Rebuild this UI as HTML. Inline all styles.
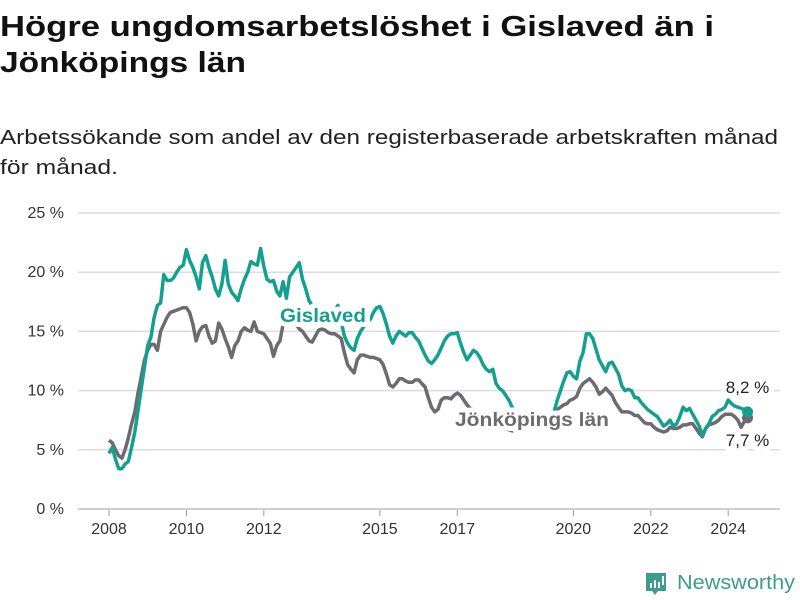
<!DOCTYPE html>
<html><head><meta charset="utf-8">
<style>
html,body{margin:0;padding:0;background:#fff;}
svg{display:block;font-family:"Liberation Sans","DejaVu Sans",sans-serif;}
.halo{paint-order:stroke;stroke:#fff;stroke-width:10px;stroke-linejoin:round;}
</style></head>
<body>
<svg id="chart" width="800" height="600" viewBox="0 0 800 600">
<text x="0" y="36" font-size="29" font-weight="bold" fill="#111" textLength="714" lengthAdjust="spacingAndGlyphs">Högre ungdomsarbetslöshet i Gislaved än i</text>
<text x="0" y="72" font-size="29" font-weight="bold" fill="#111" textLength="246" lengthAdjust="spacingAndGlyphs">Jönköpings län</text>
<text x="0" y="144" font-size="20" fill="#222" textLength="778" lengthAdjust="spacingAndGlyphs">Arbetssökande som andel av den registerbaserade arbetskraften månad</text>
<text x="0" y="174" font-size="20" fill="#222" textLength="118" lengthAdjust="spacingAndGlyphs">för månad.</text>
<g id="grid"></g><g id="yticks"></g><g id="xticks"></g><g id="series"></g><g id="labels"></g>
<g>
<path d="M646 573 h20 v18 h-8 l-3 4 l-3 -4 h-6 z" fill="#3d9c8f"/>
<rect x="650" y="583" width="2" height="5" fill="#fff"/><rect x="654" y="580" width="2" height="8" fill="#fff"/><rect x="658" y="582" width="2" height="6" fill="#fff"/><rect x="662" y="576" width="2" height="9" fill="#fff"/>
<text x="677" y="589" font-size="20" fill="#3d9c8f" textLength="118" lengthAdjust="spacingAndGlyphs">Newsworthy</text>
</g>
</svg>
<script>
const yTicks=[0,5,10,15,20,25];
const xTickYears=[2008,2010,2012,2015,2017,2020,2022,2024];
const startYear=2008;
const gislaved=[
4.7,5.2,4.2,3.4,3.4,3.8,4.0,5.2,6.5,8.3,10.2,12.0,
13.8,14.5,16.2,17.2,17.4,19.8,19.3,19.3,19.5,20.0,20.4,20.6,
21.9,21.0,20.4,19.6,18.6,20.8,21.4,20.4,19.6,18.6,18.0,19.0,
21.0,19.0,18.3,18.0,17.6,18.6,19.4,20.0,20.9,20.7,20.6,22.0,
20.5,19.4,19.2,19.3,18.4,18.0,19.2,17.8,19.6,20.0,20.4,20.8,
19.4,18.6,17.6,17.2,16.8,16.5,16.3,16.0,16.2,16.5,16.8,17.2,
15.8,14.6,14.0,13.6,13.4,14.4,15.0,15.4,15.8,16.0,16.6,17.0,
17.1,16.5,15.6,14.6,14.0,14.6,15.0,14.8,14.6,14.9,14.9,14.5,
14.2,13.6,13.0,12.5,12.3,12.6,13.0,13.6,14.2,14.6,14.8,14.8,
14.9,14.0,13.2,12.6,13.0,13.4,13.2,12.8,12.2,11.8,11.6,11.8,
10.6,10.2,10.0,9.6,9.2,8.6,8.2,8.0,7.8,7.6,7.4,7.2,
7.0,6.8,6.8,7.0,7.2,7.6,8.2,9.2,10.0,10.8,11.5,11.6,
11.2,11.0,12.5,13.2,14.8,14.8,14.4,13.5,12.6,12.1,11.6,12.3,
12.4,11.9,11.4,10.4,10.0,10.1,10.0,9.4,9.4,9.0,8.7,8.4,
8.2,8.0,7.8,7.4,7.0,7.2,7.5,7.0,7.2,7.8,8.6,8.3,
8.5,8.0,7.5,7.0,6.2,6.8,7.2,7.8,8.0,8.3,8.4,8.6,
9.2,8.9,8.7,8.6,8.5,8.4,8.2];
const jonkoping=[
5.8,5.6,5.0,4.5,4.3,5.0,6.0,7.2,8.2,9.8,11.2,12.6,
13.4,13.9,13.9,13.4,15.0,15.6,16.2,16.6,16.7,16.8,16.9,17.0,
17.0,16.6,15.6,14.2,15.0,15.4,15.5,14.6,14.0,14.2,15.7,15.2,
14.4,13.7,12.8,13.8,14.2,15.0,15.3,15.1,15.0,15.8,15.0,14.9,
14.8,14.4,14.0,12.9,13.8,14.2,15.6,16.0,16.2,16.0,15.6,15.2,
15.0,14.6,14.2,14.1,14.6,15.1,15.2,15.1,14.9,14.8,14.8,14.6,
14.4,13.2,12.2,11.8,11.5,12.6,13.0,13.0,12.9,12.8,12.8,12.7,
12.6,12.2,11.4,10.5,10.3,10.6,11.0,11.0,10.8,10.7,10.7,10.9,
10.9,10.6,10.3,9.4,8.6,8.2,8.4,9.2,9.4,9.4,9.3,9.6,
9.8,9.6,9.2,8.8,8.5,8.4,8.2,8.0,7.8,7.6,7.5,7.3,
7.2,7.0,6.9,6.8,6.7,6.6,6.6,6.5,6.6,6.8,6.8,6.9,
6.9,7.0,7.2,7.4,7.6,7.8,8.1,8.4,8.6,8.8,8.9,9.2,
9.3,9.5,10.2,10.6,10.8,11.0,10.7,10.3,9.7,9.9,10.2,9.9,
9.6,9.0,8.6,8.2,8.2,8.2,8.1,7.9,7.9,7.6,7.3,7.2,
7.2,6.9,6.7,6.6,6.5,6.6,6.9,6.8,6.8,6.9,7.1,7.1,
7.2,7.2,6.8,6.4,6.1,6.8,7.1,7.2,7.3,7.5,7.8,8.0,
8.0,8.0,7.8,7.5,6.9,7.4,7.7];
const lastLabels=["8,2 %","7,7 %"];

const NS="http://www.w3.org/2000/svg";
function y(v){return 509-v*11.84;}
function xm(m){return 109+m*(38.7/12);}
function mk(tag,attrs,parent){const e=document.createElementNS(NS,tag);for(const k in attrs)e.setAttribute(k,attrs[k]);parent.appendChild(e);return e;}
const grid=document.getElementById('grid'),yt=document.getElementById('yticks'),xt=document.getElementById('xticks'),ser=document.getElementById('series'),lab=document.getElementById('labels');
yTicks.forEach(v=>{
 const l=mk('line',{x1:78,x2:780,y1:y(v),y2:y(v),stroke:v===0?'#cfcfcf':'#dcdcdc','stroke-width':v===0?2:1.5},grid);
 
 
 const t=mk('text',{x:64,y:y(v)+5,'font-size':16,fill:'#333','text-anchor':'end'},yt);
 t.textContent=v+' %';
 
 
});
xTickYears.forEach(yr=>{
 const x=xm((yr-startYear)*12);
 const tk=mk('line',{x1:x,x2:x,y1:510,y2:516,stroke:'#999','stroke-width':1},xt);
 
 
 const t=mk('text',{x:x,y:534,'font-size':16,fill:'#333','text-anchor':'middle'},xt);
 t.textContent=yr;
 
 
});
function line(data,color,name){
 const d=data.map((v,i)=>(i?'L':'M')+xm(i).toFixed(1)+' '+y(v).toFixed(1)).join(' ');
 const p=mk('path',{d:d,fill:'none',stroke:color,'stroke-width':3.5,'stroke-linejoin':'round'},ser);
 
 
 const n=data.length-1;
 const c=mk('circle',{cx:xm(n),cy:y(data[n]),r:5.5,fill:color},ser);
 
 
}
line(jonkoping,'#6d6a70','jonkoping-line');
line(gislaved,'#14a090','gislaved-line');
const nG=gislaved.length-1,nJ=jonkoping.length-1;
function label(txt,x,yy,color,size,weight,name,anchor,len){
 const t=mk('text',{x:x,y:yy,'font-size':size,'font-weight':weight,fill:color,class:'halo','text-anchor':anchor||'start'},lab);
 if(len){t.setAttribute('textLength',len);t.setAttribute('lengthAdjust','spacingAndGlyphs');}
 t.textContent=txt;
 
 
}
label('Gislaved',280,322,'#14a090',19,'bold','gislaved-label','start',86);
label('Jönköpings län',455,426,'#6d6a70',19,'bold','jonkoping-label','start',154);
label(lastLabels[0],xm(nG),y(gislaved[nG])-19,'#222',17,'normal','gislaved-last-value','middle');
label(lastLabels[1],xm(nJ),y(jonkoping[nJ])+28,'#222',17,'normal','jonkoping-last-value','middle');
</script>
</body></html>
